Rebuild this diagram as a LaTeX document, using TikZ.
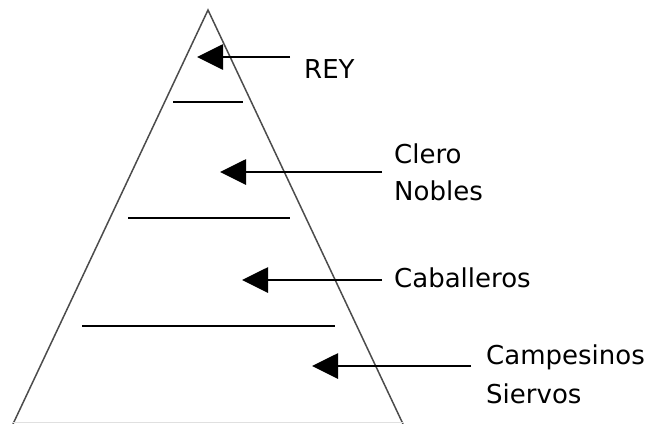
\documentclass[tikz,border=0pt]{standalone}
\usepackage{fontspec}
\setmainfont{DejaVu Sans}
\usetikzlibrary{arrows.meta}
\begin{document}
\begin{tikzpicture}[x=1pt,y=-1pt,
  side/.style={draw=black!70,line width=1.5pt},
  level/.style={draw=black,line width=2.5pt},
  pointer/.style={draw=black,line width=2.8pt,-{Triangle[length=26pt,width=25pt]}},
  lbl/.style={anchor=base west,inner sep=0pt,text=black,font=\fontsize{26}{36}\selectfont}]
\useasboundingbox (0,0) rectangle (652,423);
% pyramid
\coordinate (apex) at (208,10);
\coordinate (bl) at (13,424);
\coordinate (br) at (403,424);
\draw[side] (bl) -- (apex) -- (br);
\draw[draw=black!12,line width=1pt] (13,422) -- (403,422);
% level lines
\coordinate (l1a) at (173,102); \coordinate (l1b) at (243,102);
\coordinate (l2a) at (128,218); \coordinate (l2b) at (290,218);
\coordinate (l3a) at (82,326); \coordinate (l3b) at (335,326);
\draw[level] (l1a) -- (l1b);
\draw[level] (l2a) -- (l2b);
\draw[level] (l3a) -- (l3b);
% labels
\node[lbl] (rey) at (304,78) {REY};
\node[lbl] (clero) at (394,163) {Clero};
\node[lbl] (nobles) at (394,200) {Nobles};
\node[lbl] (cab) at (394,287) {Caballeros};
\node[lbl] (camp) at (486,364) {Campesinos};
\node[lbl] (siervos) at (486,403) {Siervos};
% arrows
\coordinate (t1) at (290,57); \coordinate (h1) at (197,57);
\coordinate (t2) at (382,172); \coordinate (h2) at (220,172);
\coordinate (t3) at (382,280); \coordinate (h3) at (242,280);
\coordinate (t4) at (471,366); \coordinate (h4) at (312,366);
\draw[pointer] (t1) -- (h1);
\draw[pointer] (t2) -- (h2);
\draw[pointer] (t3) -- (h3);
\draw[pointer] (t4) -- (h4);
\end{tikzpicture}
\end{document}
